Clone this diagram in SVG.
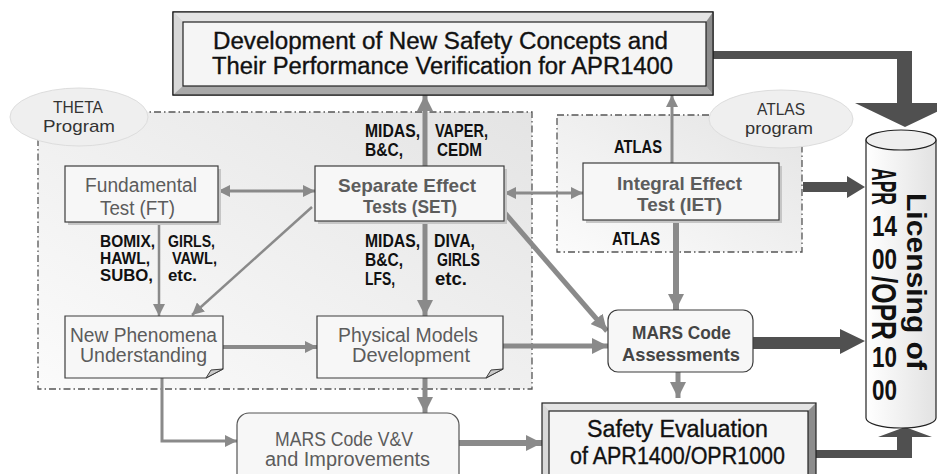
<svg xmlns="http://www.w3.org/2000/svg" width="937" height="474" viewBox="0 0 937 474">
<defs>
<linearGradient id="reg" x1="1" y1="0" x2="0" y2="1"><stop offset="0" stop-color="#e4e4e4"/><stop offset="1" stop-color="#fbfbfb"/></linearGradient>
<linearGradient id="cyl" x1="0" y1="0" x2="1" y2="0"><stop offset="0" stop-color="#ffffff"/><stop offset="1" stop-color="#e2e2e2"/></linearGradient>
<marker id="a1" viewBox="0 0 12 12" markerWidth="12" markerHeight="12" refX="12" refY="6" orient="auto-start-reverse" markerUnits="userSpaceOnUse"><path d="M0,0L12,6L0,12Z" fill="#8a8a8a"/></marker>
<marker id="a2" viewBox="0 0 16 16" markerWidth="16" markerHeight="16" refX="16" refY="8" orient="auto-start-reverse" markerUnits="userSpaceOnUse"><path d="M0,0L16,8L0,16Z" fill="#8a8a8a"/></marker>
</defs>
<style>
text{font-family:"Liberation Sans",Arial,sans-serif}
.lab{font-weight:bold;font-size:18px;fill:#111}
.sm{font-size:16px}
.bx{fill:#f7f7f7;stroke:#3c3c3c;stroke-width:1.2}
.sh{fill:#c6c6c6}
.g{fill:none;stroke:#8a8a8a}
.bt{font-size:20px;fill:#5c5c5c;text-anchor:middle}
.bb{font-weight:bold;font-size:19px}
.reg{fill:url(#reg);stroke:#555;stroke-width:1.3;stroke-dasharray:7 3 1.5 3}
.ell{fill:#efefef;stroke:#dddddd}
.et{font-size:17px;fill:#333;text-anchor:middle}
.dk{fill:#505050}
.big{font-size:23px;fill:#111;stroke:#111;stroke-width:0.35;text-anchor:middle}
.cy{font-weight:bold;fill:#111}
</style>

<g id="theta-region">
<rect class="reg" x="38" y="112" width="494" height="277"/>
<ellipse class="ell" cx="79" cy="117" rx="69" ry="29"/>
<text class="et" x="78" y="113" textLength="50" lengthAdjust="spacingAndGlyphs">THETA</text>
<text class="et" x="79" y="132" textLength="72" lengthAdjust="spacingAndGlyphs">Program</text>
</g>
<g id="atlas-region">
<rect class="reg" x="557" y="115" width="245" height="137"/>
<ellipse class="ell" cx="781" cy="119" rx="72" ry="29"/>
<text class="et" x="781" y="115" textLength="48" lengthAdjust="spacingAndGlyphs">ATLAS</text>
<text class="et" x="779" y="134" textLength="68" lengthAdjust="spacingAndGlyphs">program</text>
</g>

<g id="connectors">
<line class="g" x1="218" y1="191" x2="315" y2="191" stroke-width="3" marker-start="url(#a1)" marker-end="url(#a1)"/>
<line class="g" x1="504" y1="193" x2="583" y2="193" stroke-width="3" marker-start="url(#a1)" marker-end="url(#a1)"/>
<line class="g" x1="425" y1="166" x2="425" y2="95" stroke-width="5" marker-end="url(#a2)"/>
<line class="g" x1="672" y1="163" x2="672" y2="95" stroke-width="3" marker-end="url(#a1)"/>
<line class="g" x1="159" y1="222" x2="159" y2="316" stroke-width="2.5" marker-end="url(#a1)"/>
<line class="g" x1="312" y1="207" x2="192" y2="315" stroke-width="2.5" marker-end="url(#a1)"/>
<line class="g" x1="425" y1="221" x2="425" y2="316" stroke-width="5" marker-end="url(#a2)"/>
<line class="g" x1="504" y1="212" x2="607" y2="331" stroke-width="5" marker-end="url(#a2)"/>
<line class="g" x1="223" y1="347" x2="317" y2="347" stroke-width="4" marker-end="url(#a1)"/>
<line class="g" x1="503" y1="346" x2="608" y2="346" stroke-width="5" marker-end="url(#a2)"/>
<line class="g" x1="676" y1="220" x2="676" y2="310" stroke-width="6" marker-end="url(#a2)"/>
<line class="g" x1="678" y1="372" x2="678" y2="398" stroke-width="5" marker-end="url(#a2)"/>
<line class="g" x1="425" y1="378" x2="425" y2="413" stroke-width="5" marker-end="url(#a2)"/>
<polyline class="g" points="162,378 162,441 237,441" stroke-width="3" marker-end="url(#a1)"/>
<line class="g" x1="459" y1="443" x2="542" y2="443" stroke-width="6" marker-end="url(#a2)"/>
<polygon class="dk" points="713,51 912,51 912,103 955,103 905,127 855,103 897,103 897,59 713,59"/>
<polygon class="dk" points="816,450 897,450 897,437 878,437 905,427 932,437 912,437 912,458 816,458"/>
<polygon class="dk" points="803,182 847,182 847,176 865,187 847,198 847,192 803,192"/>
<polygon class="dk" points="753,337 840,337 840,329 865,341 840,354 840,349 753,349"/>
</g>

<g id="labels">
<text class="lab sm" x="100" y="247" textLength="55" lengthAdjust="spacingAndGlyphs">BOMIX,</text>
<text class="lab sm" x="100" y="264" textLength="50" lengthAdjust="spacingAndGlyphs">HAWL,</text>
<text class="lab sm" x="100" y="281" textLength="53" lengthAdjust="spacingAndGlyphs">SUBO,</text>
<text class="lab sm" x="168" y="247" textLength="47" lengthAdjust="spacingAndGlyphs">GIRLS,</text>
<text class="lab sm" x="172" y="264" textLength="45" lengthAdjust="spacingAndGlyphs">VAWL,</text>
<text class="lab sm" x="168" y="281" textLength="29" lengthAdjust="spacingAndGlyphs">etc.</text>
<text class="lab" x="365" y="137" textLength="55" lengthAdjust="spacingAndGlyphs">MIDAS,</text>
<text class="lab" x="365" y="156" textLength="38" lengthAdjust="spacingAndGlyphs">B&amp;C,</text>
<text class="lab" x="435" y="137" textLength="53" lengthAdjust="spacingAndGlyphs">VAPER,</text>
<text class="lab" x="437" y="156" textLength="45" lengthAdjust="spacingAndGlyphs">CEDM</text>
<text class="lab" x="365" y="247" textLength="55" lengthAdjust="spacingAndGlyphs">MIDAS,</text>
<text class="lab" x="365" y="266" textLength="38" lengthAdjust="spacingAndGlyphs">B&amp;C,</text>
<text class="lab" x="365" y="285" textLength="30" lengthAdjust="spacingAndGlyphs">LFS,</text>
<text class="lab" x="434" y="247" textLength="41" lengthAdjust="spacingAndGlyphs">DIVA,</text>
<text class="lab" x="437" y="266" textLength="43" lengthAdjust="spacingAndGlyphs">GIRLS</text>
<text class="lab" x="435" y="285" textLength="32" lengthAdjust="spacingAndGlyphs">etc.</text>
<text class="lab" x="614" y="153" textLength="48" lengthAdjust="spacingAndGlyphs">ATLAS</text>
<text class="lab" x="612" y="245" textLength="48" lengthAdjust="spacingAndGlyphs">ATLAS</text>
</g>

<g id="top-box">
<rect x="173" y="12" width="540" height="83" fill="#cfcfcf" stroke="#222" stroke-width="1.2"/>
<polygon points="173,12 713,12 706,22 183,22" fill="#e4e4e4"/>
<polygon points="173,12 183,22 183,86 173,95" fill="#d8d8d8"/>
<polygon points="713,12 713,95 706,86 706,22" fill="#8c8c8c"/>
<polygon points="173,95 713,95 706,86 183,86" fill="#a8a8a8"/>
<rect x="173" y="12" width="540" height="83" fill="none" stroke="#222" stroke-width="1.2"/>
<rect x="183" y="22" width="523" height="64" fill="#f5f5f5" stroke="#222" stroke-width="1.2"/>
<text class="big" x="440.5" y="49" textLength="455" lengthAdjust="spacingAndGlyphs">Development of New Safety Concepts and</text>
<text class="big" x="442.5" y="74" textLength="461" lengthAdjust="spacingAndGlyphs">Their Performance Verification for APR1400</text>
</g>

<g id="ft">
<rect class="sh" x="68" y="169" width="153" height="56"/>
<rect class="bx" x="65" y="166" width="153" height="56"/>
<text class="bt" x="141" y="192" textLength="112" lengthAdjust="spacingAndGlyphs">Fundamental</text>
<text class="bt" x="137.5" y="215" textLength="75" lengthAdjust="spacingAndGlyphs">Test (FT)</text>
</g>
<g id="set">
<rect class="sh" x="318" y="169" width="189" height="55"/>
<rect class="bx" x="315" y="166" width="189" height="55"/>
<text class="bt bb" x="407" y="192" textLength="138" lengthAdjust="spacingAndGlyphs">Separate Effect</text>
<text class="bt bb" x="410" y="213" textLength="94" lengthAdjust="spacingAndGlyphs">Tests (SET)</text>
</g>
<g id="iet">
<rect class="sh" x="586" y="166" width="196" height="57"/>
<rect class="bx" x="583" y="163" width="196" height="57"/>
<text class="bt bb" x="679.5" y="190" textLength="125" lengthAdjust="spacingAndGlyphs">Integral Effect</text>
<text class="bt bb" x="679.5" y="211" textLength="85" lengthAdjust="spacingAndGlyphs">Test (IET)</text>
</g>
<g id="np">
<path class="bx" d="M65,316H223V369L206,378H65Z"/>
<path d="M206,378L211,370L223,369Z" fill="#c8c8c8" stroke="#3c3c3c" stroke-width="1"/>
<text class="bt" x="143.5" y="342" textLength="147" lengthAdjust="spacingAndGlyphs">New Phenomena</text>
<text class="bt" x="143.5" y="362" textLength="127" lengthAdjust="spacingAndGlyphs">Understanding</text>
</g>
<g id="pm">
<path class="bx" d="M317,316H503V369L486,378H317Z"/>
<path d="M486,378L491,370L503,369Z" fill="#c8c8c8" stroke="#3c3c3c" stroke-width="1"/>
<text class="bt" x="408" y="342" textLength="140" lengthAdjust="spacingAndGlyphs">Physical Models</text>
<text class="bt" x="411" y="362" textLength="118" lengthAdjust="spacingAndGlyphs">Development</text>
</g>
<g id="mars-assess">
<rect class="bx" x="608" y="310" width="145" height="62" rx="10"/>
<text class="bt bb" x="681.5" y="339" style="fill:#454545" textLength="99" lengthAdjust="spacingAndGlyphs">MARS Code</text>
<text class="bt bb" x="681" y="361" style="fill:#454545" textLength="118" lengthAdjust="spacingAndGlyphs">Assessments</text>
</g>
<g id="mars-vv">
<rect class="bx" x="237" y="413" width="222" height="80" rx="12" style="stroke:#555"/>
<text class="bt" x="344" y="446" textLength="138" lengthAdjust="spacingAndGlyphs">MARS Code V&amp;V</text>
<text class="bt" x="347.5" y="466" textLength="165" lengthAdjust="spacingAndGlyphs">and Improvements</text>
</g>
<g id="safety-eval">
<rect x="542" y="403" width="274" height="80" fill="#cfcfcf"/>
<polygon points="542,403 816,403 808,411 549,411" fill="#e4e4e4"/>
<polygon points="542,403 549,411 549,483 542,483" fill="#d8d8d8"/>
<polygon points="816,403 816,483 808,483 808,411" fill="#8c8c8c"/>
<rect x="542" y="403" width="274" height="80" fill="none" stroke="#222" stroke-width="1.2"/>
<rect x="549" y="411" width="259" height="72" fill="#f5f5f5" stroke="#222" stroke-width="1.2"/>
<text class="big" x="677.5" y="437" textLength="181" lengthAdjust="spacingAndGlyphs">Safety Evaluation</text>
<text class="big" x="677.5" y="464" textLength="215" lengthAdjust="spacingAndGlyphs">of APR1400/OPR1000</text>
</g>
<g id="licensing">
<path d="M866,140V418A35,10 0 0 0 936,418V140Z" fill="url(#cyl)" stroke="#222" stroke-width="1.2"/>
<ellipse cx="901" cy="140" rx="35" ry="10" fill="#eeeeee" stroke="#222" stroke-width="1.2"/>
<text class="cy" font-size="28" transform="translate(907,193) rotate(90)" textLength="177" lengthAdjust="spacingAndGlyphs">Licensing of</text>
<text class="cy" font-size="35" transform="translate(872,168) rotate(90)" textLength="37" lengthAdjust="spacingAndGlyphs">APR</text>
<text class="cy" font-size="29" x="872" y="236" textLength="25" lengthAdjust="spacingAndGlyphs">14</text>
<text class="cy" font-size="29" x="872" y="269" textLength="25" lengthAdjust="spacingAndGlyphs">00</text>
<text class="cy" font-size="35" transform="translate(872,276) rotate(90)" textLength="64" lengthAdjust="spacingAndGlyphs">/OPR</text>
<text class="cy" font-size="29" x="872" y="367" textLength="25" lengthAdjust="spacingAndGlyphs">10</text>
<text class="cy" font-size="29" x="872" y="399.5" textLength="25" lengthAdjust="spacingAndGlyphs">00</text>
</g>
</svg>
